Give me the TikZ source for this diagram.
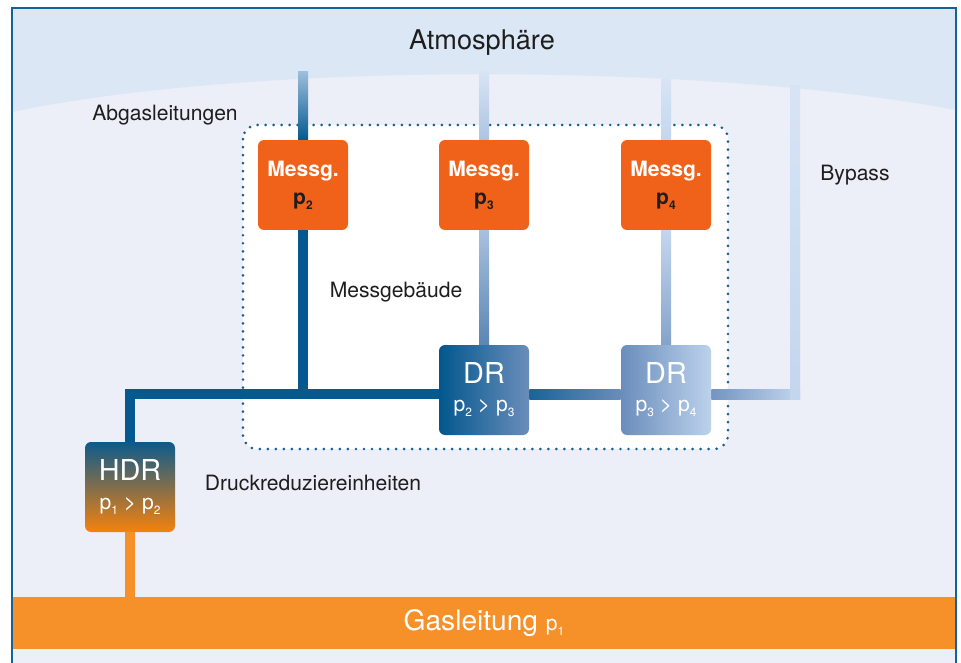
\documentclass[tikz,border=0pt]{standalone}
\usepackage{fontspec}
\setmainfont{TeX Gyre Heros}
\usetikzlibrary{calc,backgrounds}

\definecolor{framecol}{HTML}{14629A}
\definecolor{bgcol}{HTML}{ECEEF8}
\definecolor{atmocol}{HTML}{DCE7F6}
\definecolor{dotcol}{HTML}{1B5E93}
\definecolor{messcol}{HTML}{F0621A}
\definecolor{gascol}{HTML}{F6912A}
\definecolor{pipedark}{HTML}{045A8F}
\definecolor{drdark}{HTML}{02578D}
\definecolor{drmid}{HTML}{6A8DBB}
\definecolor{drlight}{HTML}{BCD2EC}
\definecolor{pipelight}{HTML}{C3D6EE}
\definecolor{pipefade}{HTML}{D8E4F5}
\definecolor{hdrtop}{HTML}{0D5A8C}
\definecolor{hdrbot}{HTML}{F5820C}
\definecolor{labelcol}{HTML}{1E1E1E}

% p with a small, lowered index
\newcommand{\pidx}[1]{p\raisebox{-0.45ex}{\fontsize{8.5}{9}\selectfont #1}}

\pgfdeclarelayer{pipes}
\pgfsetlayers{background,pipes,main}

\begin{document}
\begin{tikzpicture}[x=0.025cm, y=-0.025cm, font=\fontsize{15}{18}\selectfont,
    label/.style={text=labelcol},
    box/.style={rounded corners=4.3pt, minimum width=64pt, minimum height=64pt,
      inner sep=0pt, align=center, text=white},
    messbox/.style={box, fill=messcol, font=\fontsize{15}{20}\selectfont\bfseries},
    drbox/.style={box, font=\fontsize{15}{20}\selectfont},
    pipe/.style={line width=7.1pt}]
  \useasboundingbox (0,0) rectangle (961,663);

  % measuring stations
  \node[messbox] (m2) at (303,185) {Messg.\\\textcolor{labelcol}{\pidx{2}}};
  \node[messbox] (m3) at (484,185) {Messg.\\\textcolor{labelcol}{\pidx{3}}};
  \node[messbox] (m4) at (666,185) {Messg.\\\textcolor{labelcol}{\pidx{4}}};

  % pressure reducers
  \node[drbox, left color=drdark, middle color=drdark!45!drmid, right color=drmid] (dr1) at (484,390)
    {{\fontsize{20.5}{20}\selectfont DR}\\\pidx{2} > \pidx{3}};
  \node[drbox, left color=drmid, middle color=drmid!80!drlight, right color=drlight] (dr2) at (666,390)
    {{\fontsize{20.5}{20}\selectfont DR}\\\pidx{3} > \pidx{4}};
  \node[drbox, top color=hdrtop, bottom color=hdrbot] (hdr) at (130,487)
    {{\fontsize{20.5}{20}\selectfont HDR}\\\pidx{1} > \pidx{2}};

  \node[fill=gascol, minimum width=670pt, minimum height=37pt, inner sep=0pt, text=white,
    font=\fontsize{20}{22}\selectfont] (gas) at (484,623)
    {Gasleitung {\fontsize{15}{18}\selectfont\pidx{1}}};

  % texts
  \node[label, font=\fontsize{19.3}{22}\selectfont] (atmo) at (482,43) {Atmosphäre};
  \node[label] (abg) at (165,115) {Abgasleitungen};
  \node[label] (mgeb) at (396,292) {Messgebäude};
  \node[label] (druck) at (313,483) {Druckreduziereinheiten};
  \node[label] (byp) at (855,175) {Bypass};

  \coordinate (cl) at (130,394);
  \coordinate (cb) at (795,394);
  \coordinate (t2) at (303,72);
  \coordinate (t3) at (484,72);
  \coordinate (t4) at (666,80);
  \coordinate (tb) at (795,86);

  % pipes
  \begin{pgfonlayer}{pipes}
    \draw[pipe, pipedark] (dr1.west |- cl) -- (cl) -- (hdr.north);
    \draw[pipe, pipedark] (m2.south) -- (m2.south |- cl);
    \draw[pipe, gascol] (hdr.south) -- (hdr.south |- gas.north);
    \shade[top color=pipelight!80!pipedark, middle color=pipedark, bottom color=pipedark]
      ($(t2)+(-5,0)$) rectangle ($(m2.north)+(5,0)$);
    \shade[top color=pipefade, bottom color=pipelight!75!drmid]
      ($(t3)+(-5,0)$) rectangle ($(m3.north)+(5,0)$);
    \shade[top color=pipelight!70!drmid, bottom color=drmid!85!pipedark]
      ($(m3.south)+(-5,0)$) rectangle ($(dr1.north)+(5,0)$);
    \shade[top color=pipefade, bottom color=pipelight]
      ($(t4)+(-5,0)$) rectangle ($(m4.north)+(5,0)$);
    \shade[top color=pipelight, bottom color=drmid!70!pipelight]
      ($(m4.south)+(-5,0)$) rectangle ($(dr2.north)+(5,0)$);
    \shade[left color=pipedark!80!drmid, right color=drmid]
      ($(dr1.east |- cl)+(0,-5)$) rectangle ($(dr2.west |- cl)+(0,5)$);
    \shade[left color=drmid!90!pipelight, right color=pipelight]
      ($(dr2.east |- cl)+(0,-5)$) rectangle ($(cb)+(5,5)$);
    \shade[top color=pipefade, bottom color=pipelight]
      ($(tb)+(-5,0)$) rectangle ($(cb)+(5,5)$);
  \end{pgfonlayer}

  % background, sky and building
  \begin{pgfonlayer}{background}
    \fill[bgcol] (12,8) rectangle (956,663);
    \fill[atmocol] (12,8) -- (956,8) -- (956,110) .. controls (700,62) and (250,62) .. (12,112) -- cycle;
    \draw[framecol, line width=1.8pt] (12,663) -- (12,8) -- (956,8) -- (956,663);
    \draw[dotcol, fill=white, line width=2.1pt, dash pattern=on 0pt off 5.7pt, line cap=round,
      rounded corners=10pt] (243,125) rectangle (728,449);
  \end{pgfonlayer}
\end{tikzpicture}
\end{document}
